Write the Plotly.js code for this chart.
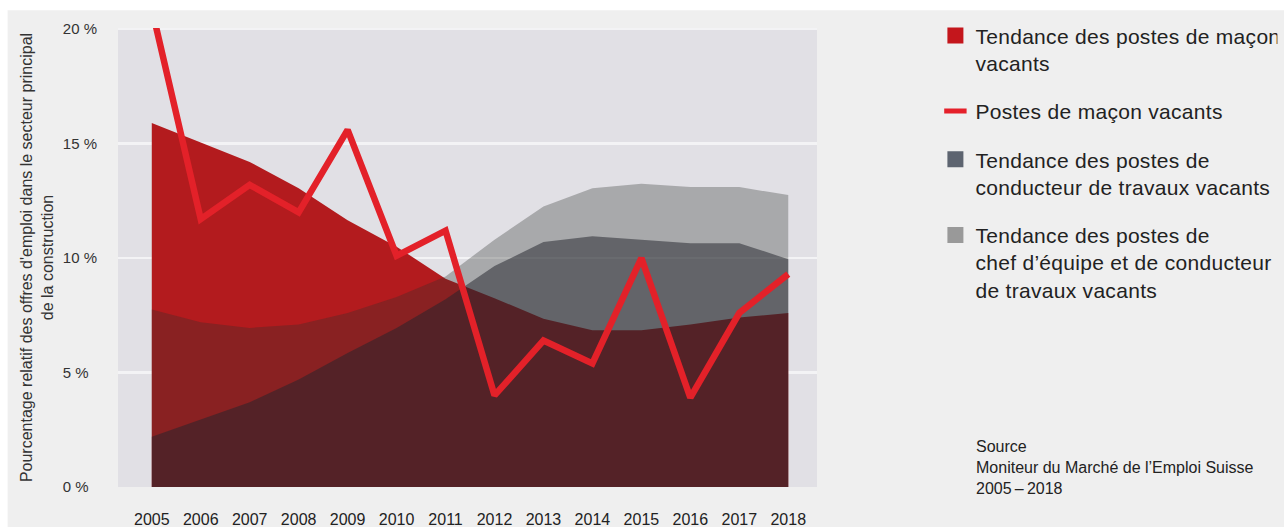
<!DOCTYPE html>
<html>
<head>
<meta charset="utf-8">
<script src="https://cdn.plot.ly/plotly-3.0.1.min.js"></script>
<style>
  html, body { margin: 0; padding: 0; background: #ffffff; }
  #chart { width: 1284px; height: 527px; }
  #chart .legendtext { letter-spacing: 0.3px; }
</style>
</head>
<body>
<div id="chart"></div>
<script>
// ---- Data ----
const years = [2005, 2006, 2007, 2008, 2009, 2010, 2011, 2012, 2013, 2014, 2015, 2016, 2017, 2018];
const maconTrend = [15.9, 15.05, 14.2, 13.05, 11.65, 10.5, 9.1, 8.25, 7.35, 6.85, 6.85, 7.1, 7.4, 7.6];
const maconPostes = [20.9, 11.7, 13.2, 12.0, 15.6, 10.1, 11.2, 4.0, 6.4, 5.4, 10.0, 3.9, 7.6, 9.3];
const conducteurTrend = [2.2, 2.95, 3.7, 4.7, 5.85, 6.95, 8.2, 9.65, 10.7, 10.95, 10.8, 10.65, 10.65, 9.95];
const chefTrend = [7.75, 7.2, 6.95, 7.1, 7.6, 8.3, 9.2, 10.8, 12.25, 13.05, 13.25, 13.1, 13.1, 12.75];

const yTickVals = [0, 5, 10, 15, 20];
const yTickText = ["0\u00a0%\u2007", "5\u00a0%\u2007", "10\u00a0%", "15\u00a0%", "20\u00a0%"];

const legendNames = [
  "Tendance des postes de maçon<br>vacants",
  "Postes de maçon vacants",
  "Tendance des postes de<br>conducteur de travaux vacants",
  "Tendance des postes de<br>chef d’équipe et de conducteur<br>de travaux vacants"
];
const yTitle = "Pourcentage relatif des offres d'emploi dans le secteur principal<br>de la construction";
const sourceText = "Source<br>Moniteur du Marché de l’Emploi Suisse<br>2005\u2009–\u20092018";

// ---- Styles ----
const FONT = "Liberation Sans, Arial, Helvetica, sans-serif";
const cRedArea = "#b31b1e";
const cChef = "rgba(45,48,46,0.315)";
const cCond = "rgba(34,36,44,0.516)";
const cLine = "#e32129";

const traces = [
  { x: years, y: maconTrend, type: "scatter", mode: "none", fill: "tozeroy",
    fillcolor: cRedArea, showlegend: false, hoverinfo: "skip" },
  { x: years, y: chefTrend, type: "scatter", mode: "none", fill: "tozeroy",
    fillcolor: cChef, showlegend: false, hoverinfo: "skip" },
  { x: years, y: conducteurTrend, type: "scatter", mode: "none", fill: "tozeroy",
    fillcolor: cCond, showlegend: false, hoverinfo: "skip" },
  { x: years, y: maconPostes, type: "scatter", mode: "lines",
    line: { color: cLine, width: 6.5, shape: "linear" }, showlegend: false, hoverinfo: "skip" },
  // legend entries
  { x: [null], y: [null], type: "scatter", mode: "markers", name: legendNames[0], legendgroup: "g1",
    marker: { symbol: "square", size: 16, color: "#c4161c" } },
  { x: [null], y: [null], type: "scatter", mode: "markers", name: legendNames[1], legendgroup: "g2",
    marker: { symbol: "line-ew", size: 16, line: { color: "#e5202a", width: 5 } } },
  { x: [null], y: [null], type: "scatter", mode: "markers", name: legendNames[2], legendgroup: "g3",
    marker: { symbol: "square", size: 16, color: "#5d6470" } },
  { x: [null], y: [null], type: "scatter", mode: "markers", name: legendNames[3], legendgroup: "g4",
    marker: { symbol: "square", size: 16, color: "#999999" } }
];

const L = 118.3, R = 816.7, T = 27.7, B = 487.3;
const pw = R - L, ph = B - T;
const px2x = p => (p - L) / pw;
const py2y = p => (B - p) / ph;

const layout = {
  width: 1284, height: 527,
  margin: { l: L, r: 1284 - R, t: T, b: 527 - B, pad: 0, autoexpand: false },
  paper_bgcolor: "#efefef",
  plot_bgcolor: "#e1e0e5",
  font: { family: FONT, color: "#333333" },
  showlegend: true,
  hovermode: false,
  xaxis: {
    range: [2004.31, 2018.587],
    tickvals: years,
    ticktext: years.map(String),
    showgrid: false, zeroline: false, showline: false,
    ticks: "outside", ticklen: 18, tickcolor: "rgba(0,0,0,0)",
    tickfont: { size: 16, color: "#222222", family: FONT },
    automargin: false,
    fixedrange: true
  },
  yaxis: {
    range: [0, 20.05],
    tickvals: yTickVals,
    ticktext: yTickText,
    showgrid: true, gridcolor: "#f3f3f5", gridwidth: 2.5,
    zeroline: false, showline: false,
    ticks: "outside", ticklen: 17, tickcolor: "rgba(0,0,0,0)",
    tickfont: { size: 15, color: "#333333", family: FONT },
    title: { text: yTitle, font: { size: 16, color: "#333333", family: FONT }, standoff: 5 },
    automargin: false,
    fixedrange: true
  },
  legend: {
    x: px2x(935), xanchor: "left",
    y: 1 + (T - 15) / ph, yanchor: "top",
    maxheight: 900,
    bgcolor: "rgba(0,0,0,0)",
    font: { size: 21, color: "#222222", family: FONT },
    traceorder: "grouped",
    tracegroupgap: 18,
    valign: "top",
    itemclick: false, itemdoubleclick: false
  },
  annotations: [
    { text: sourceText, xref: "paper", yref: "paper",
      x: px2x(974), xanchor: "left", y: py2y(436), yanchor: "top",
      align: "left", showarrow: false,
      font: { size: 16, color: "#222222", family: FONT } }
  ],
  shapes: [
    { type: "rect", xref: "paper", yref: "paper", layer: "above",
      x0: px2x(-5), x1: px2x(1290), y0: py2y(10), y1: py2y(-5),
      fillcolor: "#ffffff", line: { width: 0 } },
    { type: "rect", xref: "paper", yref: "paper", layer: "above",
      x0: px2x(-5), x1: px2x(8), y0: py2y(530), y1: py2y(-5),
      fillcolor: "#ffffff", line: { width: 0 } }
  ]
};

Plotly.newPlot("chart", traces, layout, { displayModeBar: false, staticPlot: true });
</script>
</body>
</html>
